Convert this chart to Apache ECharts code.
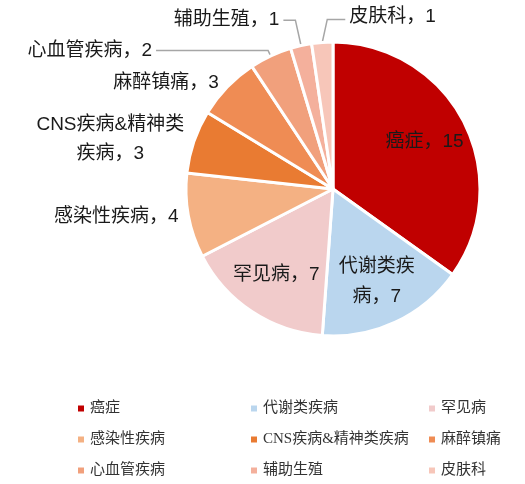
<!DOCTYPE html>
<html lang="zh">
  <head>
    <meta charset="UTF-8" />
    <title>pie</title>
    <style>
      * {
        margin: 0;
        padding: 0;
      }
      #main {
        width: 525px;
        height: 484px;
        background: #fff;
      }
    </style>
  </head>
  <body>
    <div id="main"></div>
  </body>
  <script src="https://cdn.jsdelivr.net/npm/echarts@6/dist/echarts.min.js"></script>
  <script>
    // 数据
    const names = ["癌症", "代谢类疾病", "罕见病", "感染性疾病", "CNS疾病&精神类疾病", "麻醉镇痛", "心血管疾病", "辅助生殖", "皮肤科"];
    const values = [15, 7, 7, 4, 3, 3, 2, 1, 1];
    const colors = ["#c00000", "#bad6ee", "#f1cbcb", "#f4b183", "#e97b32", "#ef8c54", "#f1a07c", "#f4b09c", "#f7c6b9"];
    // 标签文字（换行）
    const labelText = ["癌症", "代谢类疾\n病", "罕见病", "感染性疾病", "CNS疾病&精神类\n疾病", "麻醉镇痛", "心血管疾病", "辅助生殖", "皮肤科"];
    // 放在扇区内部的标签
    const innerIdx = [0, 1, 2];
    // 带引导线的标签
    const lineIdx = [6, 7, 8];

    const font = "'Liberation Sans', 'Noto Sans CJK SC', sans-serif";
    const legendFont = "'Liberation Serif', 'Noto Sans CJK SC', serif";

    const myChart = echarts.init(document.getElementById("main"));

    // 外圈主饼图
    const mainData = names.map((n, i) => {
      const item = {
        name: n,
        value: values[i],
        itemStyle: { color: colors[i] },
        label: { show: innerIdx.indexOf(i) < 0, formatter: labelText[i] + "，{c}" },
        labelLine: { show: lineIdx.indexOf(i) >= 0, length: 6, length2: 0 },
      };
      if (i === 6) item.labelLine.length2 = 112;
      if (i === 7) item.labelLine.length = 26;
      if (i === 7) item.labelLine.length2 = 12;
      return item;
    });

    // 透明饼图，只用于放置内部标签
    const innerData = names.map((n, i) => ({
      name: n,
      value: values[i],
      label: { show: innerIdx.indexOf(i) >= 0, formatter: labelText[i] + "，{c}" },
    }));

    // 图例分三列
    const cols = [
      [names[0], names[3], names[6]],
      [names[1], names[4], names[7]],
      [names[2], names[5], names[8]],
    ];
    const colLeft = [71, 244, 422];

    const option = {
      backgroundColor: "#fff",
      legend: cols.map((c, k) => ({
        data: c,
        orient: "vertical",
        left: colLeft[k],
        top: 396,
        itemWidth: 8,
        itemHeight: 8,
        itemGap: 16,
        icon: "rect",
        textStyle: { fontFamily: legendFont, fontSize: 15, color: "#333" },
      })),
      series: [
        {
          type: "pie",
          center: [333, 189],
          radius: [0, 147],
          startAngle: 90,
          clockwise: true,
          avoidLabelOverlap: false,
          itemStyle: { borderColor: "#fff", borderWidth: 3 },
          label: {
            position: "outside",
            fontFamily: font,
            fontSize: 19,
            color: "#1a1a1a",
            lineHeight: 29,
            distanceToLabelLine: 4,
          },
          labelLine: { lineStyle: { color: "#a6a6a6", width: 1.5 }, smooth: false },
          emphasis: { disabled: true },
          labelLayout: function (p) {
            // 皮肤科标签放到右边
            if (p.dataIndex === 8 && p.labelLinePoints) {
              const p0 = p.labelLinePoints[0];
              return {
                x: p0[0] + 27,
                y: p0[1] - 26,
                align: "left",
                verticalAlign: "middle",
                labelLinePoints: [p0, [p0[0] + 5, p0[1] - 23], [p0[0] + 23, p0[1] - 23]],
              };
            }
            // CNS 标签居中对齐
            if (p.dataIndex === 4) {
              return {
                x: p.labelRect.x + p.labelRect.width / 2,
                y: p.labelRect.y + p.labelRect.height / 2,
                align: "center",
                verticalAlign: "middle",
              };
            }
          },
          data: mainData,
        },
        {
          type: "pie",
          center: [333, 189],
          radius: [50, 150],
          startAngle: 90,
          clockwise: true,
          silent: true,
          itemStyle: { color: "transparent", borderWidth: 0 },
          label: {
            position: "inside",
            fontFamily: font,
            fontSize: 19,
            color: "#1a1a1a",
            lineHeight: 30,
          },
          labelLine: { show: false },
          emphasis: { disabled: true },
          data: innerData,
        },
      ],
    };

    myChart.setOption(option);
  </script>
</html>
